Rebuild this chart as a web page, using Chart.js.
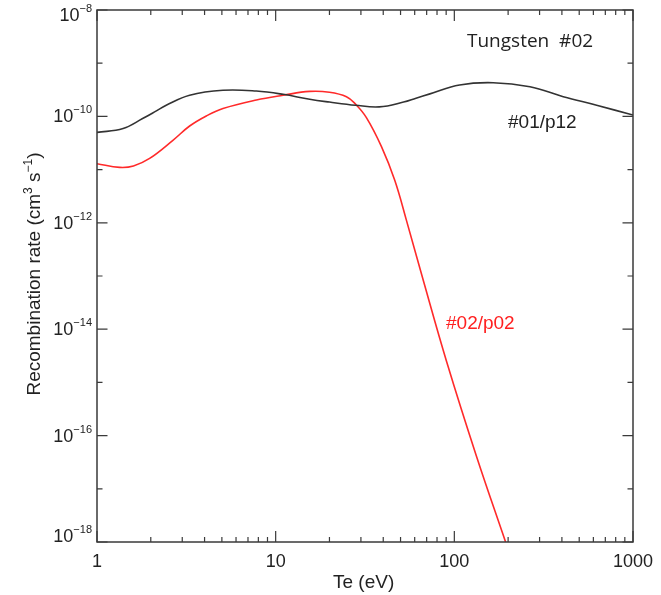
<!DOCTYPE html>
<html>
<head>
<meta charset="utf-8">
<script src="https://cdn.jsdelivr.net/npm/chart.js@4"></script>
<style>
  body { margin: 0; background: #fff; }
  #wrap { width: 661px; height: 595px; }
</style>
</head>
<body>
<div id="wrap"><canvas id="chart" width="661" height="595"></canvas></div>
<script>
// Te (eV) and recombination rate (cm^3 s^-1)
const teBlack = [1, 1.4, 1.8, 2.15, 2.44, 3.3, 5.07, 7.8, 11, 15.5, 20, 28, 38, 52, 61, 73, 107, 165, 265, 407, 626, 1000];
const rateBlack = [5.0e-11, 5.9e-11, 9.1e-11, 1.27e-10, 1.62e-10, 2.5e-10, 3.1e-10, 3.0e-10, 2.6e-10, 2.1e-10, 1.86e-10,
  1.62e-10, 1.51e-10, 1.86e-10, 2.2e-10, 2.65e-10, 3.9e-10, 4.3e-10, 3.6e-10, 2.35e-10, 1.62e-10, 1.06e-10];

const teRed = [1, 1.34, 1.6, 1.97, 2.66, 3.3, 4.09, 5.07, 7.8, 11, 15.5, 20, 24.9, 28, 32.2, 39.1, 46.4, 54, 67, 90.4, 133, 193.6];
const rateRed = [1.29e-11, 1.10e-11, 1.17e-11, 1.62e-11, 3.55e-11, 6.6e-11, 1.02e-10, 1.41e-10, 2.04e-10, 2.5e-10,
  2.95e-10, 2.85e-10, 2.35e-10, 1.7e-10, 9.5e-11, 2.7e-11, 6.3e-12, 1.1e-12, 8.3e-14, 2.5e-15, 4.1e-17, 1.0e-18];

const xMajor = [1, 10, 100, 1000];
const xTickLabels = ["1", "10", "100", "1000"];
const yDecades = [-18, -17, -16, -15, -14, -13, -12, -11, -10, -9, -8];
const yLabelExps = [-18, -16, -14, -12, -10, -8];

const FONT = "'Liberation Sans', Arial, sans-serif";
const AXIS_COLOR = "#3a3a3a";

function toPoints(xs, ys) {
  return xs.map((x, i) => ({ x: x, y: ys[i] }));
}

// draws "10" with a superscript exponent, right aligned at xRight
function drawPower(ctx, exp, xRight, baseline) {
  const sup = "\u2212" + Math.abs(exp);
  ctx.font = "11px " + FONT;
  const supW = ctx.measureText(sup).width;
  ctx.font = "18px " + FONT;
  const baseW = ctx.measureText("10").width;
  ctx.textAlign = "left";
  ctx.textBaseline = "alphabetic";
  ctx.fillText("10", xRight - supW - baseW, baseline);
  ctx.font = "11px " + FONT;
  ctx.fillText(sup, xRight - supW, baseline - 9);
}

const framePlugin = {
  id: "frame",
  afterDatasetsDraw(chart) {
    const ctx = chart.ctx;
    const a = chart.chartArea;
    const xs = chart.scales.x;
    const ys = chart.scales.y;
    ctx.save();
    ctx.strokeStyle = AXIS_COLOR;
    ctx.lineWidth = 1.5;
    ctx.strokeRect(a.left, a.top, a.right - a.left, a.bottom - a.top);

    // x ticks, top and bottom, pointing in
    ctx.lineWidth = 1.2;
    ctx.beginPath();
    for (let d = 1; d <= 1000; d *= 10) {
      for (let m = 1; m <= 9; m++) {
        const v = d * m;
        if (v > 1000) break;
        const px = xs.getPixelForValue(v);
        const len = m === 1 ? 11 : 5;
        ctx.moveTo(px, a.bottom);
        ctx.lineTo(px, a.bottom - len);
        ctx.moveTo(px, a.top);
        ctx.lineTo(px, a.top + len);
      }
    }
    // y ticks, left and right
    yDecades.forEach((e) => {
      const py = ys.getPixelForValue(Math.pow(10, e));
      const len = e % 2 === 0 ? 10.5 : 5.5;
      ctx.moveTo(a.left, py);
      ctx.lineTo(a.left + len, py);
      ctx.moveTo(a.right, py);
      ctx.lineTo(a.right - len, py);
    });
    ctx.stroke();

    ctx.fillStyle = "#222";
    // x tick labels
    ctx.font = "18px " + FONT;
    ctx.textAlign = "center";
    ctx.textBaseline = "alphabetic";
    xMajor.forEach((v, i) => {
      ctx.fillText(xTickLabels[i], xs.getPixelForValue(v), 567);
    });

    // y tick labels
    yLabelExps.forEach((e) => {
      const py = ys.getPixelForValue(Math.pow(10, e));
      let base = py + 6;
      if (e === -8) base = py + 11;
      if (e === -18) base = py;
      drawPower(ctx, e, a.left - 5, base);
    });

    // x title
    ctx.font = "19px " + FONT;
    ctx.textAlign = "left";
    ctx.fillText("Te (eV)", 333, 588);

    // y title, rotated, with superscripts
    const parts = [
      { t: "Recombination rate (cm", s: 19, dy: 0 },
      { t: "3", s: 12, dy: -8 },
      { t: " s", s: 19, dy: 0 },
      { t: "\u22121", s: 12, dy: -8 },
      { t: ")", s: 19, dy: 0 }
    ];
    let total = 0;
    parts.forEach((p) => {
      ctx.font = p.s + "px " + FONT;
      p.w = ctx.measureText(p.t).width;
      total += p.w;
    });
    ctx.save();
    ctx.translate(40, 274);
    ctx.rotate(-Math.PI / 2);
    let cx = -total / 2;
    parts.forEach((p) => {
      ctx.font = p.s + "px " + FONT;
      ctx.fillText(p.t, cx, p.dy);
      cx += p.w;
    });
    ctx.restore();

    // annotations
    ctx.font = "19px 'Open Sans', sans-serif";
    ctx.fillStyle = "#222";
    ctx.fillText("Tungsten  #02", 467, 47);
    ctx.font = "19px " + FONT;
    ctx.fillText("#01/p12", 508, 128);
    ctx.fillStyle = "#ff2020";
    ctx.fillText("#02/p02", 446, 329);
    ctx.restore();
  }
};

new Chart(document.getElementById("chart"), {
  type: "line",
  data: {
    datasets: [
      {
        label: "#01/p12",
        data: toPoints(teBlack, rateBlack),
        borderColor: "#333333",
        borderWidth: 1.6,
        pointRadius: 0,
        tension: 0.4,
        fill: false
      },
      {
        label: "#02/p02",
        data: toPoints(teRed, rateRed),
        borderColor: "#ff2a2a",
        borderWidth: 1.6,
        pointRadius: 0,
        tension: 0.4,
        fill: false
      }
    ]
  },
  options: {
    responsive: false,
    animation: false,
    events: [],
    layout: { padding: { left: 97, right: 28, top: 10, bottom: 53 } },
    plugins: {
      legend: { display: false },
      tooltip: { enabled: false }
    },
    scales: {
      x: { type: "logarithmic", min: 1, max: 1000, display: false },
      y: { type: "logarithmic", min: 1e-18, max: 1e-8, display: false }
    }
  },
  plugins: [framePlugin]
});
</script>
</body>
</html>
